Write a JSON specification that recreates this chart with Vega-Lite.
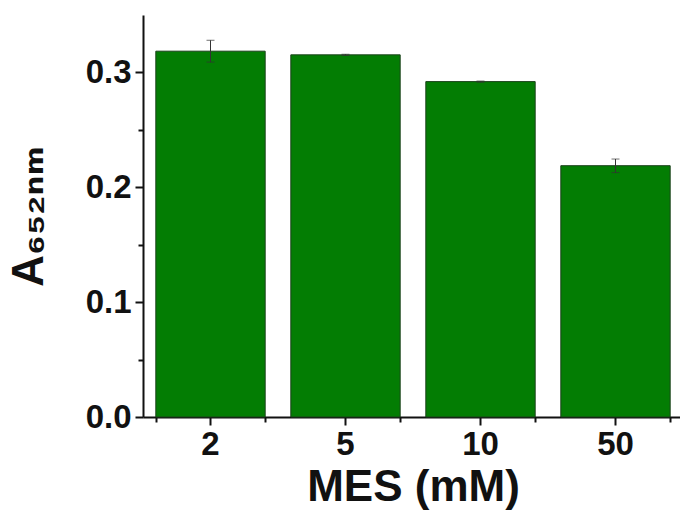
{
  "$schema": "https://vega.github.io/schema/vega-lite/v6.json",
  "width": 540,
  "height": 402,
  "autosize": {"type": "none"},
  "padding": {"left": 143, "top": 15, "right": 0, "bottom": 95},
  "background": "white",
  "config": {
    "view": {"stroke": null},
    "font": "Liberation Sans",
    "axis": {"grid": false, "domainColor": "#111", "tickColor": "#111", "domainWidth": 2, "tickWidth": 2, "labelColor": "#111", "titleColor": "#111", "labelFont": "Liberation Sans", "titleFont": "Liberation Sans, DejaVu Sans", "labelFontWeight": "bold", "titleFontWeight": "bold"}
  },
  "data": {
    "values": [
      {"MES": "2", "value": 0.3185, "lo": 0.309, "hi": 0.328},
      {"MES": "5", "value": 0.3153, "lo": 0.3148, "hi": 0.3158},
      {"MES": "10", "value": 0.292, "lo": 0.2915, "hi": 0.2925},
      {"MES": "50", "value": 0.2188, "lo": 0.2128, "hi": 0.2246}
    ]
  },
  "layer": [
    {
      "mark": {"type": "bar", "fill": "#037d03", "stroke": "#1a401a", "strokeWidth": 1},
      "encoding": {
        "x": {
          "field": "MES", "type": "nominal", "sort": ["2", "5", "10", "50"],
          "scale": {"paddingInner": 0.19, "paddingOuter": 0.095},
          "axis": {"title": "MES (mM)", "orient": "bottom", "labelAngle": 0, "labelFontSize": 33, "tickSize": 8, "labelPadding": 3, "titleFontSize": 44, "titlePadding": 4}
        },
        "y": {
          "field": "value", "type": "quantitative",
          "scale": {"domain": [0, 0.35], "nice": false, "zero": true},
          "axis": {"title": "A₆₅₂ₙₘ", "orient": "left", "values": [0, 0.1, 0.2, 0.3], "format": ".1f", "labelFontSize": 33, "tickSize": 8, "labelPadding": 4, "titleFontSize": 44, "titlePadding": 34}
        }
      }
    },
    {
      "mark": {"type": "errorbar", "ticks": {"size": 8, "color": "#333"}, "rule": {"color": "#333", "strokeWidth": 1}},
      "encoding": {
        "x": {"field": "MES", "type": "nominal", "sort": ["2", "5", "10", "50"], "axis": null},
        "y": {"field": "lo", "type": "quantitative", "axis": null},
        "y2": {"field": "hi"}
      }
    },
    {
      "mark": {"type": "point", "opacity": 0},
      "encoding": {
        "x": {"field": "MES", "type": "nominal", "sort": ["2", "5", "10", "50"], "axis": {"title": null, "orient": "bottom", "labels": false, "domain": false, "tickBand": "extent", "tickSize": 5}},
        "y": {"field": "value", "type": "quantitative", "axis": {"title": null, "orient": "left", "labels": false, "domain": false, "values": [0.05, 0.15, 0.25], "tickSize": 5}}
      }
    }
  ],
  "resolve": {"axis": {"x": "independent", "y": "independent"}}
}
